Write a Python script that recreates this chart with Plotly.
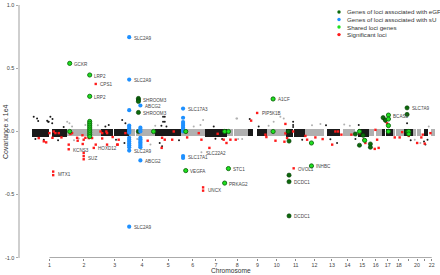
import numpy as np
import plotly.graph_objects as go

# ---------------- data ----------------
chrom_names = [str(i) for i in range(1, 23)]
chrom_len = [249.25, 243.2, 198.0, 191.2, 180.9, 171.1, 159.1, 146.4, 141.2, 135.5, 135.0,
             133.9, 115.2, 107.3, 102.5, 90.4, 81.2, 78.1, 59.1, 63.0, 48.1, 51.3]
tick_labels = ["1", "2", "3", "4", "5", "6", "7", "8", "9", "10", "11", "12", "13", "14",
               "15", "16", "17", "18", "", "20", "", "22"]
# centromere / heterochromatin gaps (Mb within chromosome)
gap_start = [121, 90, 89, 48, 46, 58, 57, 43, 38, 38, 51, 33, 0, 0, 0, 35, 22, 15, 24, 26, 0, 0]
gap_end = [145, 96, 94, 53, 50, 62, 62, 48, 71, 43, 55, 38, 19, 19, 20, 46, 26, 19, 28, 30, 15, 17]
# dense band of covariance values per chromosome
band_hi = [0.02, 0.016, 0.021, 0.017, 0.019, 0.016, 0.02, 0.017, 0.019, 0.016, 0.021,
           0.017, 0.018, 0.016, 0.022, 0.017, 0.02, 0.016, 0.019, 0.017, 0.019, 0.017]
band_lo = [-0.04, -0.036, -0.038, -0.037, -0.038, -0.036, -0.04, -0.036, -0.038, -0.037, -0.04,
           -0.036, -0.037, -0.036, -0.042, -0.037, -0.038, -0.036, -0.038, -0.037, -0.037, -0.037]

# scattered background SNPs (genome position Mb, covariance)
bg_pos = [12, 44, 131, 146, 115, 267, 36, 119, 144, 108, 251, 286, 226, 24, 84, 186, 524, 548,
          644, 667, 660, 381, 334, 936, 936, 948, 948, 924, 960, 1203, 1155, 1222, 1298, 912,
          929, 1310, 1358, 846, 751, 1865, 1865, 1865, 1726, 1774, 1501, 1619, 2131, 2179, 1472,
          1465, 2512, 2524, 2734, 2774, 2810, 2679, 2834, 2334, 2310, 1460, 1555, 1798, 2060,
          2100, 2230, 2270, 1210, 2705, 2800, 2825, 2000, 1930, 1690, 1050, 880, 600, 470, 300]
bg_val = [0.117, 0.084, 0.117, 0.1, 0.078, 0.065, 0.104, 0.078, 0.065, 0.086, 0.078, 0.039,
          0.035, -0.06, -0.065, -0.07, 0.039, 0.052, 0.091, 0.065, -0.091, 0.052, -0.055, 0.117,
          0.078, 0.117, 0.078, 0.045, 0.04, 0.052, 0.04, 0.091, 0.04, -0.091, -0.117, -0.058,
          -0.06, -0.104, -0.06, 0.078, 0.052, 0.035, 0.078, 0.117, -0.06, 0.04, -0.062, -0.091,
          -0.06, 0.104, 0.096, 0.078, -0.065, -0.091, -0.104, 0.065, 0.04, 0.052, -0.06, 0.104,
          0.099, 0.104, 0.06, 0.05, 0.055, 0.045, -0.164, -0.07, -0.08, -0.065, 0.05, -0.065,
          0.045, -0.07, 0.045, -0.065, 0.05, -0.07]

# genes of loci associated with eGFR
egfr_pos = [760, 760, 760, 760, 760, 1836, 1836, 1836, 1836, 2679, 2679, 2679, 2339, 2417, 2417,
            2310, 2508, 2524, 1830, 2365]
egfr_val = [0.262, 0.25, 0.238, 0.151, 0.0, -0.346, -0.398, -0.669, -0.076, 0.1875, 0.135, 0.0,
            -0.109, -0.099, -0.125, -0.02, 0.11, 0.09, 0.0, -0.03]

# genes of loci associated with serum urate
su_pos = [694] * 17 + [774] * 12 + [1079] * 10
su_val = [0.748, 0.412, 0.169, 0.047, 0.035, 0.022, 0.01, 0.0, -0.01, -0.05, -0.065, -0.08,
          -0.095, -0.11, -0.125, -0.151, -0.755,
          0.206, 0.03, 0.015, 0.0, -0.05, -0.062, -0.075, -0.088, -0.1, -0.112, -0.125, -0.229,
          0.182, 0.109, 0.075, 0.06, 0.045, 0.03, 0.015, 0.0, -0.195, -0.21]

# shared loci genes
shared_pos = [269, 269, 412, 412, 412, 412, 412, 412, 412, 412, 412, 412, 412, 868, 1098, 1098,
              1376, 1376, 1403, 1403, 1722, 1722, 1996, 1996, 2546, 2546, 2546, 2546, 2376, 2691,
              2691, 2339]
shared_val = [0.54, 0.0, 0.448, 0.279, 0.08, 0.065, 0.05, 0.035, 0.02, 0.005, -0.01, -0.025,
              -0.04, 0.0, -0.31, 0.0, -0.409, 0.0, -0.294, 0.0, 0.258, 0.0, -0.273, -0.091, 0.13,
              0.099, 0.047, 0.0, -0.07, 0.0, -0.02, 0.0]

# significant loci
sig_pos = [48, 101, 124, 167, 191, 210, 262, 262, 286, 369, 362, 369, 369, 369, 405, 429, 441,
           501, 536, 576, 612, 619, 667, 84, 146, 274, 322, 326, 360, 381, 455, 501, 536, 608,
           455, 151, 151, 155, 489, 531,
           826, 926, 929, 948, 1001, 1012, 1101, 1108, 1191, 1210, 1267, 1326, 1369, 1389, 1417,
           1455, 1222, 1222,
           1565, 1608, 1667, 1674, 1739, 1810, 1810, 1822, 1865, 1953, 1965, 2024, 2076, 2144,
           2167, 1869, 1836, 1722, 1803,
           2186, 2210, 2281, 2339, 2369, 2381, 2453, 2465, 2476, 2536, 2591, 2626, 2644, 2691,
           2751, 2781, 2791, 2805, 2846, 2448]
sig_val = [-0.052, -0.086, -0.013, -0.013, -0.013, -0.047, -0.141, -0.104, -0.013, -0.065,
           -0.099, -0.17, -0.195, -0.22, -0.052, -0.052, -0.13, -0.013, -0.013, -0.044, -0.104,
           -0.065, -0.013, -0.078, -0.05, -0.02, -0.05, -0.073, -0.03, -0.05, -0.104, -0.055,
           -0.104, -0.104, 0.377, -0.318, -0.346, 0.0, 0.0, 0.0,
           -0.073, -0.13, -0.05, -0.065, -0.065, 0.0, -0.008, -0.047, -0.013, -0.065, -0.13,
           -0.018, -0.065, -0.091, -0.065, -0.065, -0.443, -0.469,
           0.086, 0.147, -0.025, -0.044, -0.073, 0.06, -0.015, -0.052, 0.0, -0.035, -0.065,
           -0.047, -0.06, -0.104, 0.0, -0.292, -0.346, 0.258, -0.081,
           0.0, -0.025, -0.025, -0.013, -0.065, -0.091, 0.013, -0.065, -0.13, 0.065, -0.047,
           -0.047, -0.005, -0.035, -0.091, -0.047, -0.025, -0.096, -0.013, -0.138]

# gene labels
label_text = ["SLC2A9", "SLC2A9", "SHROOM3", "ABCG2", "SHROOM3", "GCKR", "LRP2", "CPS1", "LRP2",
              "SLC17A3", "A1CF", "PIP5K1B", "BCAS3", "SLC7A9", "KCNS3", "SUZ", "HOXD12", "MTX1",
              "SLC2A9", "ABCG2", "SLC2A9", "SLC17A1", "SLC22A2", "VEGFA", "UNCX", "STC1",
              "PRKAG2", "DCDC1", "DCDC1", "OVOL1", "INHBC"]
label_pos = [694, 694, 760, 774, 760, 269, 412, 455, 412, 1079, 1722, 1608, 2546, 2679, 262, 369,
             441, 151, 694, 774, 694, 1079, 1210, 1098, 1222, 1403, 1376, 1836, 1836, 1869, 1996]
label_val = [0.748, 0.412, 0.25, 0.206, 0.151, 0.54, 0.448, 0.377, 0.279, 0.182, 0.258, 0.147,
             0.13, 0.1875, -0.141, -0.205, -0.13, -0.33, -0.151, -0.229, -0.755, -0.2, -0.164,
             -0.31, -0.456, -0.294, -0.409, -0.398, -0.669, -0.292, -0.273]

legend_names = ["Genes of loci associated with eGFR", "Genes of loci associated with sU",
                "Shared loci genes", "Significant loci"]

# ---------------- styling ----------------
C_EGFR = "#0b6a0b"
C_SU = "#1e90ff"
C_SHARED = "#1ee01e"
C_SIG = "#ff1a1a"
C_BLACK = "#1a1a1a"
C_GRAY = "#b0b0b0"
FONT = "Liberation Sans"

lens = np.array(chrom_len)
starts = np.concatenate([[0], np.cumsum(lens)[:-1]])
centers = starts + lens / 2

fig = go.Figure()

# dense band as per-arm bars
for i in range(22):
    col = C_BLACK if i % 2 == 0 else C_GRAY
    segs = []
    if gap_start[i] > 0:
        segs.append((0, gap_start[i]))
    segs.append((gap_end[i], chrom_len[i]))
    xs = [starts[i] + (a + b) / 2 for a, b in segs]
    ws = [b - a for a, b in segs]
    fig.add_trace(go.Bar(x=xs, y=[band_hi[i] - band_lo[i]] * len(segs),
                         base=[band_lo[i]] * len(segs), width=ws,
                         marker=dict(color=col, line=dict(width=0)),
                         showlegend=False, hoverinfo="skip"))

bgp = np.array(bg_pos, float)
chrom_idx = np.searchsorted(starts, bgp, side="right") - 1
bg_cols = [C_BLACK if c % 2 == 0 else C_GRAY for c in chrom_idx]
fig.add_trace(go.Scatter(x=bgp, y=bg_val, mode="markers",
                         marker=dict(size=2, color=bg_cols, line=dict(width=0)),
                         showlegend=False))

fig.add_trace(go.Scatter(x=sig_pos, y=sig_val, mode="markers",
                         marker=dict(size=2.4, color=C_SIG, symbol="square", line=dict(width=0)),
                         showlegend=False))
fig.add_trace(go.Scatter(x=egfr_pos, y=egfr_val, mode="markers",
                         marker=dict(size=4.2, color=C_EGFR, symbol="circle",
                                     line=dict(width=0.6, color="#053d05")),
                         showlegend=False))
fig.add_trace(go.Scatter(x=su_pos, y=su_val, mode="markers",
                         marker=dict(size=4.2, color=C_SU, line=dict(width=0)),
                         showlegend=False))
fig.add_trace(go.Scatter(x=shared_pos, y=shared_val, mode="markers",
                         marker=dict(size=4.2, color=C_SHARED,
                                     line=dict(width=0.9, color=C_EGFR)),
                         showlegend=False))

# x axis line between first and last chromosome tick
fig.add_trace(go.Scatter(x=[centers[0], centers[-1]], y=[-1, -1], mode="lines",
                         line=dict(color="#888888", width=0.8), showlegend=False,
                         hoverinfo="skip", cliponaxis=False))

for t, p, v in zip(label_text, label_pos, label_val):
    fig.add_annotation(x=p, y=v, text=t, showarrow=False, xanchor="left", yanchor="middle",
                       xshift=2.5, yshift=-1, font=dict(family=FONT, size=4.6, color="#444444"))

# manual legend
leg_cols = [C_EGFR, C_SU, C_SHARED, C_SIG]
L, R, T, B = 20, 2, 3, 17
W, H = 440 - L - R, 275 - T - B
for k, (name, col) in enumerate(zip(legend_names, leg_cols)):
    py = 10 + k * 7.6
    yp = (275 - B - py) / H
    xp = (339 - L) / W
    fig.add_shape(type="circle", xref="paper", yref="paper",
                  x0=xp - 1.7 / W, x1=xp + 1.7 / W, y0=yp - 1.7 / H, y1=yp + 1.7 / H,
                  fillcolor=col, line=dict(width=0))
    fig.add_annotation(xref="paper", yref="paper", x=(345 - L) / W, y=yp, text=name,
                       showarrow=False, xanchor="left", yanchor="middle",
                       font=dict(family=FONT, size=6.2, color="#333333"))

fig.add_annotation(xref="paper", yref="paper", x=(231 - L) / W, y=-13 / H,
                   text="Chromosome", showarrow=False, xanchor="center", yanchor="middle",
                   font=dict(family=FONT, size=6.6, color="#333333"))
fig.add_annotation(xref="paper", yref="paper", x=(5.5 - L) / W, y=0.5,
                   text="Covariance x 1e4", textangle=-90, showarrow=False,
                   xanchor="center", yanchor="middle",
                   font=dict(family=FONT, size=7, color="#333333"))

fig.update_layout(
    width=440, height=275, margin=dict(l=L, r=R, t=T, b=B),
    paper_bgcolor="white", plot_bgcolor="white", barmode="overlay", bargap=0,
    font=dict(family=FONT, size=6, color="#444444"),
    xaxis=dict(range=[-86, 2900], showgrid=False, zeroline=False, showline=False,
               tickmode="array", tickvals=centers, ticktext=tick_labels,
               ticks="outside", ticklen=1.5, tickwidth=0.6, tickcolor="#888888",
               tickfont=dict(size=5.3, color="#444444")),
    yaxis=dict(range=[-1.003, 1.003], showgrid=False, zeroline=False, showline=True,
               linecolor="#cfcfcf", linewidth=2, tickmode="array",
               tickvals=[-1, -0.5, 0, 0.5, 1], ticktext=["-1.0", "-0.5", "0.0", "0.5", "1.0"],
               ticks="outside", ticklen=2.5, tickwidth=0.6, tickcolor="#aaaaaa",
               tickfont=dict(size=5.5, color="#444444")),
)

fig.write_html("out.html", config={"displayModeBar": False},
               post_script="document.body.style.margin='0';")
